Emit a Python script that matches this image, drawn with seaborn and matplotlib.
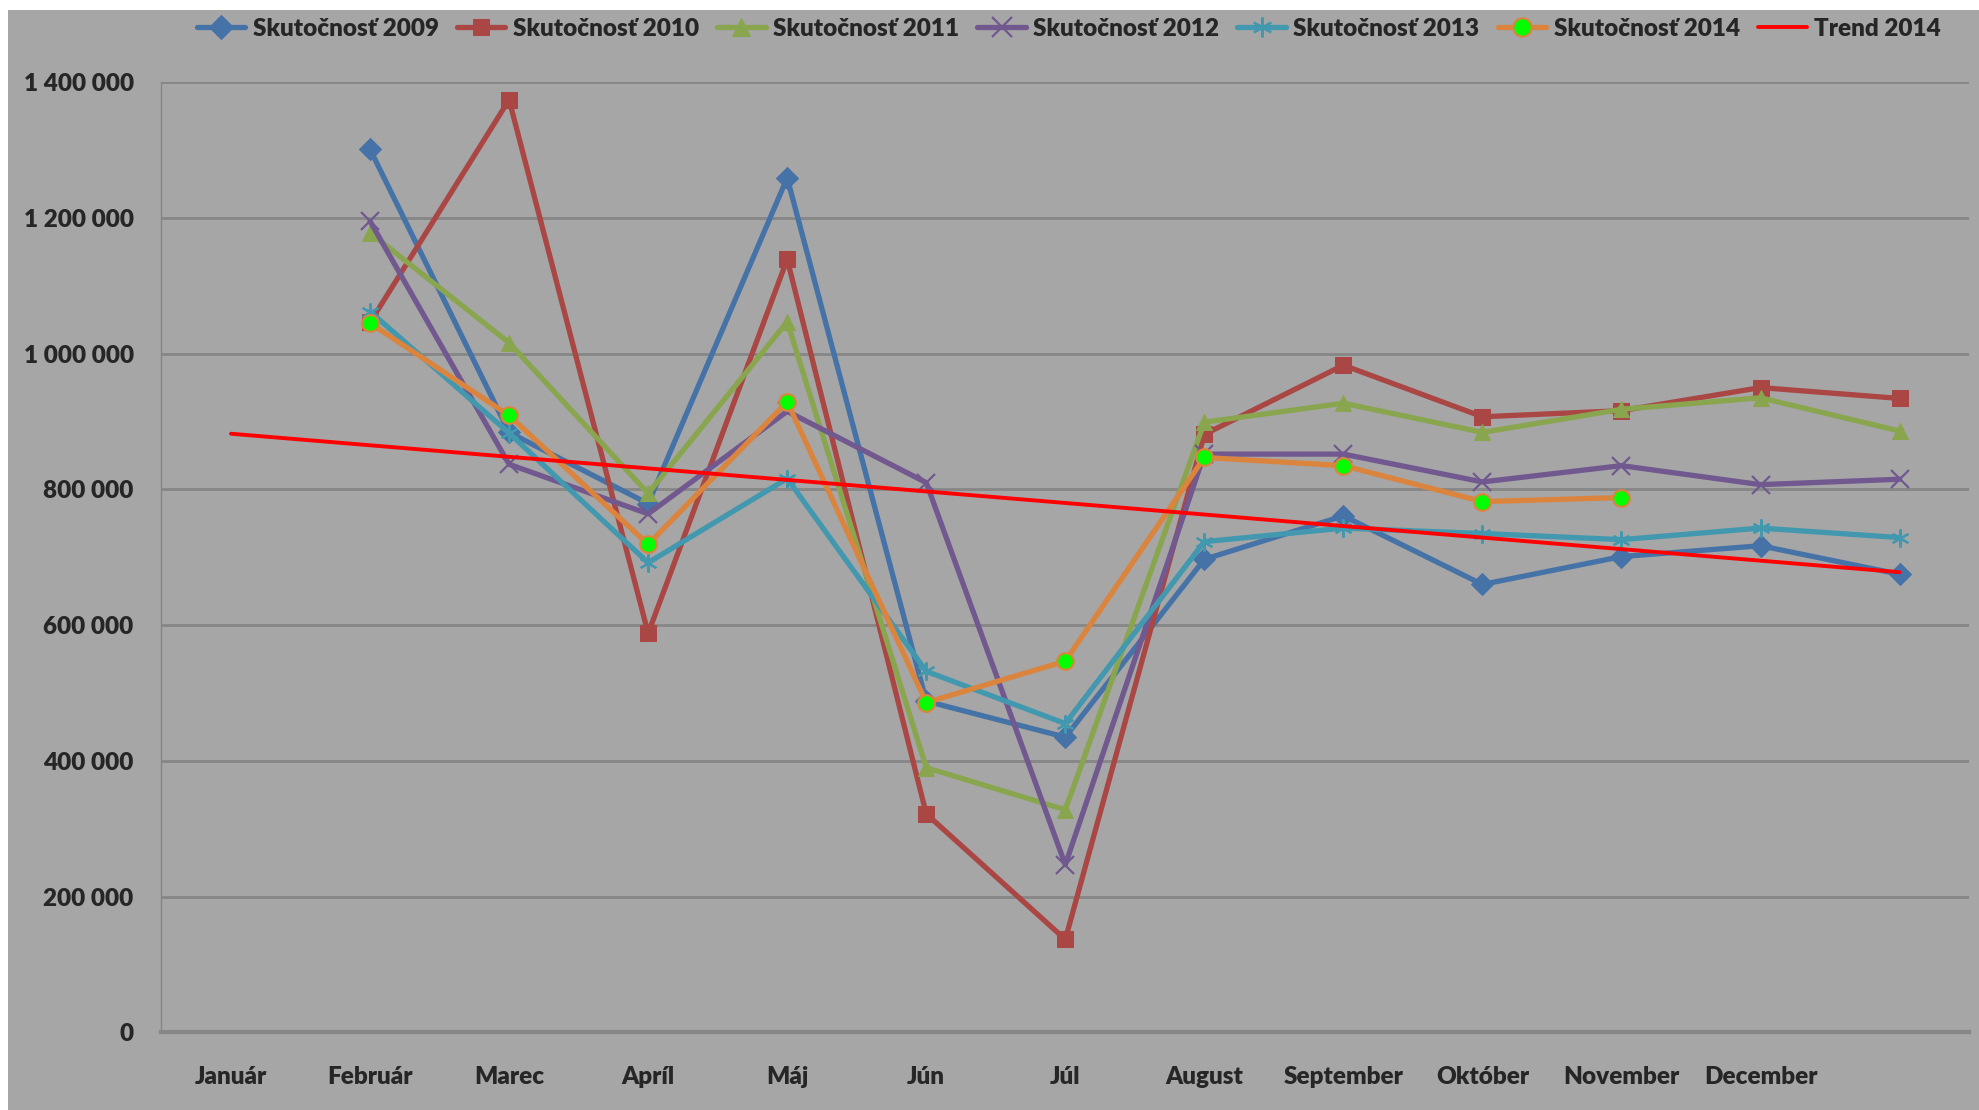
import seaborn as sns
import matplotlib.pyplot as plt
import matplotlib.ticker as mticker
from matplotlib.patches import Rectangle
import numpy as np

# -------------------------------
# Data
# -------------------------------
nan = np.nan
months = ["Január", "Február", "Marec", "Apríl", "Máj", "Jún", "Júl",
          "August", "September", "Október", "November", "December", ""]
slots = list(range(len(months)))

s2009 = [nan, 1301000, 884000, 779000, 1259000, 488000, 435000,
         697000, 761000, 660000, 701000, 717000, 675000]
s2010 = [nan, 1046000, 1374000, 588000, 1139000, 322000, 137000,
         881000, 983000, 907000, 916000, 950000, 934000]
s2011 = [nan, 1178000, 1016000, 794000, 1047000, 390000, 328000,
         899000, 927000, 884000, 918000, 935000, 886000]
s2012 = [nan, 1195000, 837000, 764000, 915000, 810000, 247000,
         852000, 852000, 811000, 835000, 807000, 815000]
s2013 = [nan, 1062000, 883000, 692000, 816000, 532000, 455000,
         723000, 743000, 735000, 726000, 743000, 729000]
s2014 = [nan, 1045000, 909000, 719000, 929000, 486000, 547000,
         847000, 835000, 782000, 788000, nan, nan]
trend_x = [0, 12]
trend_2014 = [882000, 678000]

# -------------------------------
# Style
# -------------------------------
bg = "#a6a6a6"
grid = "#868686"
sns.set_style("white", {"axes.facecolor": bg, "figure.facecolor": bg})
plt.rcParams["font.family"] = ["Lato", "DejaVu Sans"]
plt.rcParams["font.weight"] = "heavy"

fig = plt.figure(figsize=(19.79, 11.10), dpi=100)
fig.patches.append(Rectangle((0, 0.991), 1, 0.009, transform=fig.transFigure,
                             facecolor="white", edgecolor="none", zorder=-1))
fig.patches.append(Rectangle((0, 0), 0.004, 1, transform=fig.transFigure,
                             facecolor="white", edgecolor="none", zorder=-1))
ax = fig.add_axes([0.0816, 0.0699, 0.9134, 0.8561])
ax.set_facecolor(bg)

series = [
    ("Skutočnosť 2009", s2009, "#4572a7", dict(marker="D", markersize=11)),
    ("Skutočnosť 2010", s2010, "#aa4643", dict(marker="s", markersize=11)),
    ("Skutočnosť 2011", s2011, "#89a54e", dict(marker="^", markersize=12)),
    ("Skutočnosť 2012", s2012, "#71588f", dict(marker="x", markersize=13,
                                               markeredgewidth=1.6)),
    ("Skutočnosť 2013", s2013, "#4198af", dict(marker=(6, 2, 0), markersize=13,
                                               markeredgewidth=1.6)),
    ("Skutočnosť 2014", s2014, "#db843d", dict(marker="o", markersize=12,
                                               markerfacecolor="#00ff00",
                                               markeredgewidth=1.5)),
]
for name, vals, col, mk in series:
    sns.lineplot(x=slots, y=vals, ax=ax, color=col, linewidth=3.8,
                 label=name, markeredgecolor=col, **mk)

sns.lineplot(x=trend_x, y=trend_2014, ax=ax, color="#ff0000", linewidth=2.8,
             label="Trend 2014")

# -------------------------------
# Axes
# -------------------------------
ax.set_xlim(-0.5, 12.5)
ax.set_ylim(0, 1400000)
ax.yaxis.set_major_locator(mticker.MultipleLocator(200000))
ax.yaxis.set_major_formatter(mticker.FuncFormatter(
    lambda v, p: f"{v:,.0f}".replace(",", " ")))
ax.grid(axis="y", color=grid, linewidth=2)
ax.set_axisbelow(True)

ax.set_xticks(slots)
ax.set_xticklabels(months)
ax.set_xticks(np.arange(-0.5, 13, 1), minor=True)
ax.tick_params(axis="x", which="major", length=0, pad=24, labelsize=17.5)
ax.tick_params(axis="x", which="minor", length=10, width=1, color=grid,
               direction="out")
ax.tick_params(axis="y", length=8, width=1.5, color=grid, direction="out",
               labelsize=17.5, pad=12)
for lab in ax.get_xticklabels() + ax.get_yticklabels():
    lab.set_fontweight("heavy")

sns.despine(ax=ax, top=True, right=True)
ax.spines["left"].set_color(grid)
ax.spines["left"].set_linewidth(1)
ax.spines["bottom"].set_color(grid)
ax.spines["bottom"].set_linewidth(3)
ax.set_xlabel("")
ax.set_ylabel("")

leg = ax.legend(loc="center", bbox_to_anchor=(0.54, 0.974),
                bbox_transform=fig.transFigure, ncol=7, frameon=False,
                handlelength=2.0, handletextpad=0.3, columnspacing=0.75,
                markerscale=1.1, prop={"weight": "heavy", "size": 17.5})

plt.savefig("out.png", dpi=100, facecolor=bg)
